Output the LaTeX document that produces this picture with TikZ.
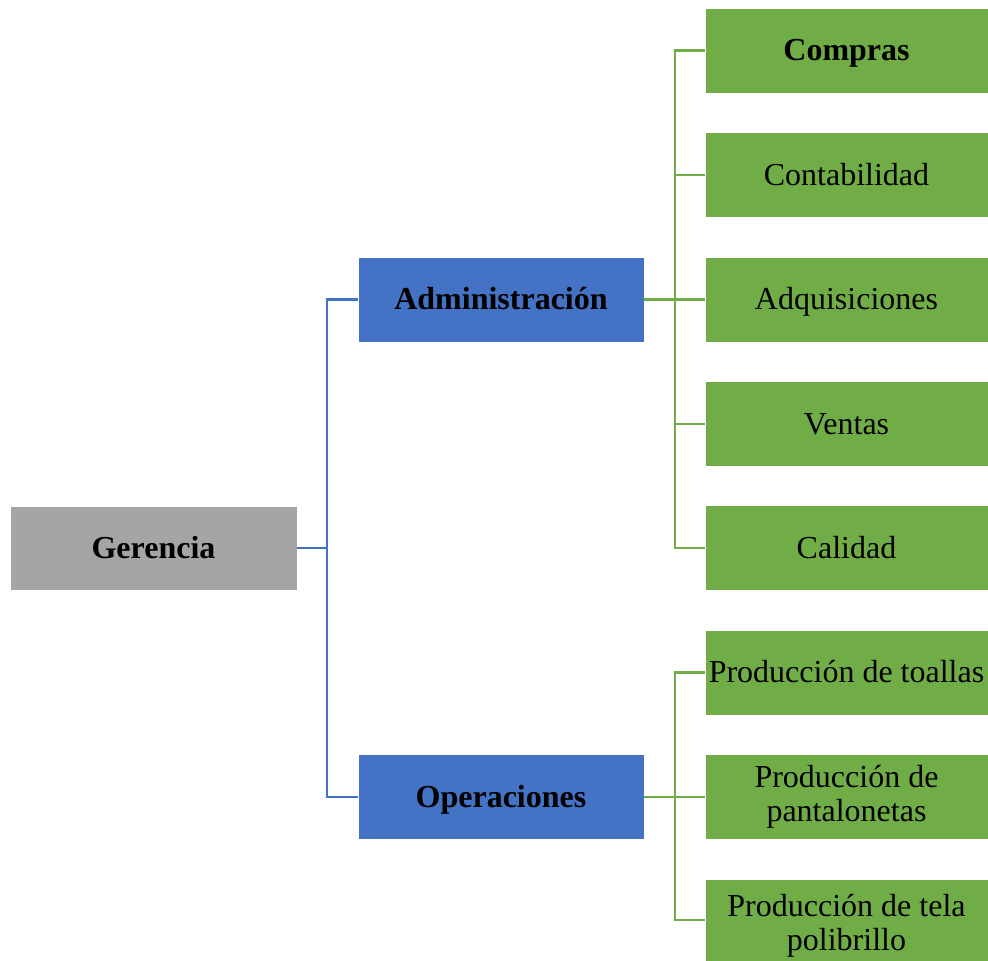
\documentclass[tikz,border=0pt]{standalone}
\usepackage{fontspec}
\setmainfont{Liberation Serif}
\definecolor{boxgray}{HTML}{A5A5A5}
\definecolor{boxblue}{HTML}{4472C4}
\definecolor{boxgreen}{HTML}{70AD47}
\begin{document}
\begin{tikzpicture}[x=1pt,y=-1pt,
  unit/.style={rectangle, draw=white, line width=0.8pt, inner sep=2pt,
    text=black, align=center, font=\fontsize{32}{34}\selectfont,
    text height=27pt, text depth=7pt},
  topbox/.style={unit, fill=boxgray, minimum width=287pt, minimum height=84pt},
  midbox/.style={unit, fill=boxblue, minimum width=286pt, minimum height=85pt},
  leafbox/.style={unit, fill=boxgreen, minimum width=283pt, minimum height=85pt},
  lineof/.style={inner sep=0pt, anchor=base, text=black,
    font=\fontsize{32}{34}\selectfont},
  blueline/.style={draw=boxblue, line width=2.5pt},
  greenline/.style={draw=boxgreen, line width=2.5pt}]
\useasboundingbox (0,0) rectangle (988,961);

% root
\node[topbox] (ger) at (153.5,548) {\textbf{Gerencia}};

% second level
\node[midbox] (adm) at (501,299.5) {\textbf{Administración}};
\node[midbox] (ope) at (501,797) {\textbf{Operaciones}};

% leaves of Administración
\node[leafbox] (com) at (846.5,50.5) {\textbf{Compras}};
\node[leafbox] (con) at (846.5,175) {Contabilidad};
\node[leafbox] (adq) at (846.5,299.5) {Adquisiciones};
\node[leafbox] (ven) at (846.5,424) {Ventas};
\node[leafbox] (cal) at (846.5,548) {Calidad};

% leaves of Operaciones
\node[leafbox] (pto) at (846.5,672.5) {Producción de toallas};
\node[leafbox] (ppa) at (846.5,797) {};
\node[lineof] (ppa1) at ([yshift=9.3pt]ppa.center) {Producción de};
\node[lineof] (ppa2) at ([yshift=-24.7pt]ppa.center) {pantalonetas};
\node[leafbox, minimum height=82pt] (pte) at (846.5,920) {};
\node[lineof] (pte1) at ([yshift=3.3pt]pte.center) {Producción de tela};
\node[lineof] (pte2) at ([yshift=-30pt]pte.center) {polibrillo};

% junction columns
\coordinate (jb) at (327,0);
\coordinate (jg) at (675,0);

% root to second level
\draw[blueline] (ger.east) -- (ger.east -| jb);
\draw[blueline] (adm.west) -- (adm.west -| jb) -- (ope.west -| jb) -- (ope.west);

% Administración branch
\draw[greenline] (adm.east) -- (adq.west);
\draw[greenline] (com.west) -- (com.west -| jg) -- (cal.west -| jg) -- (cal.west);
\foreach \n in {con,ven}
  \draw[greenline] (\n.west) -- (\n.west -| jg);

% Operaciones branch
\draw[greenline] (ope.east) -- (ppa.west);
\draw[greenline] (pto.west) -- (pto.west -| jg) -- (pte.west -| jg) -- (pte.west);
\end{tikzpicture}
\end{document}
